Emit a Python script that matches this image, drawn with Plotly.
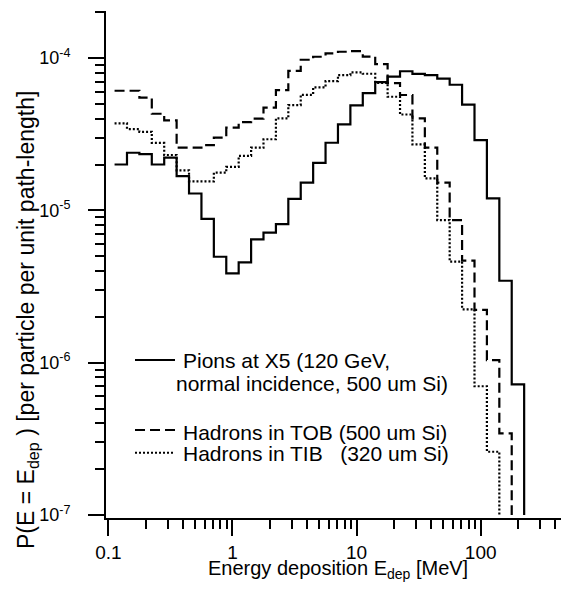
import plotly.graph_objects as go

# Bin edges of the histograms [MeV] (10 log-spaced bins per decade)
bin_edges = [0.1122, 0.1413, 0.1778, 0.2239, 0.2818, 0.3548, 0.4467, 0.5623, 0.7079, 0.8913,
             1.122, 1.413, 1.778, 2.239, 2.818, 3.548, 4.467, 5.623, 7.079, 8.913,
             11.22, 14.13, 17.78, 22.39, 28.18, 35.48, 44.67, 56.23, 70.79, 89.13,
             112.2, 141.3, 177.8, 223.9]

# Probabilities per bin
pions_x5 = [2.0e-5, 2.39e-5, 2.34e-5, 2.0e-5, 2.22e-5, 1.68e-5, 1.29e-5, 8.8e-6, 4.96e-6, 3.86e-6,
            4.56e-6, 6.45e-6, 7.15e-6, 8.13e-6, 1.19e-5, 1.52e-5, 2.05e-5, 2.78e-5, 3.67e-5, 4.89e-5,
            5.89e-5, 6.96e-5, 7.56e-5, 8.19e-5, 7.88e-5, 7.73e-5, 7.33e-5, 6.68e-5, 4.94e-5, 2.89e-5,
            1.2e-5, 3.45e-6, 7.2e-7]
hadrons_tob = [6.1e-5, 6.1e-5, 5.49e-5, 4.31e-5, 3.9e-5, 2.58e-5, 2.58e-5, 2.68e-5, 3.0e-5, 3.49e-5,
               3.8e-5, 4.0e-5, 4.72e-5, 6.16e-5, 8.25e-5, 9.75e-5, 1.02e-4, 1.074e-4, 1.10e-4, 1.112e-4,
               1.023e-4, 9.13e-5, 6.85e-5, 5.72e-5, 4.02e-5, 2.58e-5, 1.52e-5, 8.64e-6, 4.67e-6, 2.22e-6,
               1.04e-6, 3.43e-7]
hadrons_tib = [3.73e-5, 3.42e-5, 3.28e-5, 2.77e-5, 2.31e-5, 1.83e-5, 1.55e-5, 1.55e-5, 1.77e-5, 1.93e-5,
               2.28e-5, 2.58e-5, 2.93e-5, 4.02e-5, 4.91e-5, 5.74e-5, 6.42e-5, 7.06e-5, 7.73e-5, 8.05e-5,
               7.89e-5, 6.88e-5, 5.57e-5, 4.26e-5, 2.71e-5, 1.62e-5, 8.64e-6, 4.6e-6, 2.24e-6, 7.0e-7,
               2.6e-7]

series_names = ["Pions at X5 (120 GeV,",
                "Hadrons in TOB (500 um Si)",
                "Hadrons in TIB\u00a0\u00a0\u00a0(320 um Si)"]
series_names_line2 = "normal incidence, 500 um Si)"

x_tickvals = [0.1, 1, 10, 100]
x_ticktext = ["0.1", "1", "10", "100"]
x_minor = [m * d for d in (0.1, 1, 10, 100) for m in range(2, 10) if m * d < 460]
y_tickvals = [1e-7, 1e-6, 1e-5, 1e-4]
y_ticktext = ["10<sup>-7</sup>", "10<sup>-6</sup>", "10<sup>-5</sup>", "10<sup>-4</sup>"]
y_minor = [m * d for d in (1e-7, 1e-6, 1e-5, 1e-4) for m in range(2, 10) if m * d < 2.1e-4]

FONT = "Liberation Sans, Arial, Helvetica, sans-serif"
floor = y_tickvals[0]


def step_xy(vals):
    n = len(vals)
    xs = bin_edges[:n + 1] + [bin_edges[n]]
    ys = list(vals) + [vals[-1], floor]
    return xs, ys


styles = [dict(color="black", width=2.2, dash="solid"),
          dict(color="black", width=2.2, dash="10px,5px"),
          dict(color="black", width=2.2, dash="2px,2px")]

fig = go.Figure()
for vals, st, nm in zip([pions_x5, hadrons_tob, hadrons_tib], styles, series_names):
    xs, ys = step_xy(vals)
    fig.add_trace(go.Scatter(x=xs, y=ys, mode="lines", line=dict(shape="hv", **st),
                             name=nm, showlegend=False, hoverinfo="skip"))

W, H = 561, 591
L, R, T, B = 106, 0, 11, 73
pw, ph = W - L - R, H - T - B


def px(xp):
    return (xp - L) / pw


def py(yp):
    return (H - B - yp) / ph


axis_common = dict(showline=True, linewidth=2, linecolor="black", mirror=False,
                   ticks="outside", tickwidth=2, tickcolor="black", ticklen=16,
                   showgrid=False, zeroline=False)

fig.update_layout(
    width=W, height=H,
    margin=dict(l=L, r=R, t=T, b=B, pad=0),
    paper_bgcolor="white", plot_bgcolor="white",
    xaxis=dict(type="log", range=[-1.019, 2.647], tickmode="array",
               tickvals=x_tickvals, ticktext=x_ticktext, ticklabelstandoff=0,
               tickfont=dict(family=FONT, size=19, color="black"),
               minor=dict(ticks="outside", tickvals=x_minor, ticklen=9, tickwidth=2,
                          tickcolor="black", showgrid=False),
               **axis_common),
    yaxis=dict(type="log", range=[-7.02, -3.691], tickmode="array",
               tickvals=y_tickvals, ticktext=y_ticktext, ticklabelstandoff=14,
               tickfont=dict(family=FONT, size=18, color="black"),
               minor=dict(ticks="outside", tickvals=y_minor, ticklen=9, tickwidth=2,
                          tickcolor="black", showgrid=False),
               **axis_common),
    showlegend=False,
)

# axis titles
fig.add_annotation(xref="paper", yref="paper", x=px(338), y=py(569),
                   text="Energy deposition E<sub>dep</sub> [MeV]", showarrow=False,
                   xanchor="center", yanchor="middle",
                   font=dict(family=FONT, size=20, color="black"))
fig.add_annotation(xref="paper", yref="paper", x=px(27), y=py(320),
                   text="P(E = E<sub>dep</sub> ) [per particle per unit path-length]",
                   showarrow=False, textangle=-90, xanchor="center", yanchor="middle",
                   font=dict(family=FONT, size=23, color="black"))

# legend (manual)
leg_rows = [(360, styles[0]), (430, styles[1]), (452.7, styles[2])]
for yrow, st in leg_rows:
    fig.add_shape(type="line", xref="paper", yref="paper",
                  x0=px(135), x1=px(175), y0=py(yrow), y1=py(yrow),
                  line=dict(color="black", width=2, dash=st["dash"]))
leg_text = [(181, 360, series_names[0]), (174, 383, series_names_line2),
            (181, 432, series_names[1]), (181, 453, series_names[2])]
for xt, yt, txt in leg_text:
    fig.add_annotation(xref="paper", yref="paper", x=px(xt), y=py(yt), text=txt,
                       showarrow=False, xanchor="left", yanchor="middle",
                       font=dict(family=FONT, size=21, color="black"))

fig.write_html("out.html")
